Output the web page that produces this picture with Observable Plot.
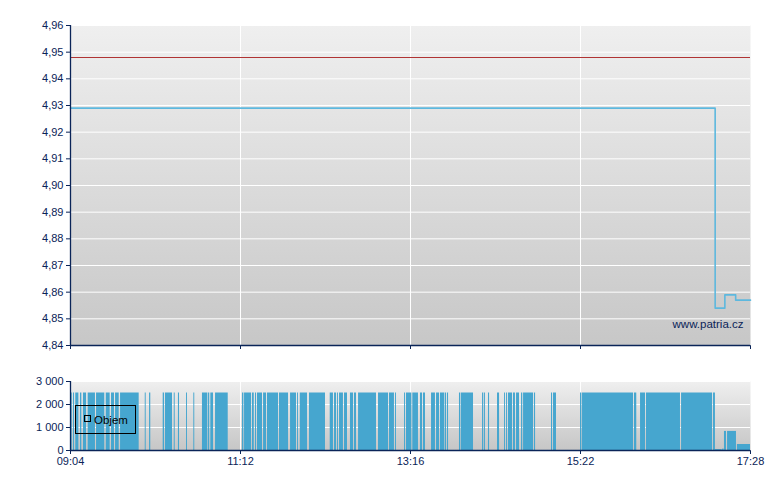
<!DOCTYPE html>
<html><head><meta charset="utf-8">
<script src="https://cdn.jsdelivr.net/npm/d3@7"></script>
<script src="https://cdn.jsdelivr.net/npm/@observablehq/plot@0.6"></script>
<style>
body{margin:0;background:#fff;}
#chart svg{display:block;}
</style></head><body><div id="chart"></div>
<script>
// ---- data ----
const xTickLabels = ["09:04", "11:12", "13:16", "15:22", "17:28"];
const sessionMinutes = 504; // 09:04 -> 17:28
const priceTicks = [4.84, 4.85, 4.86, 4.87, 4.88, 4.89, 4.90, 4.91, 4.92, 4.93, 4.94, 4.95, 4.96];
const priceMinute = [0, 477.8, 485.0, 493.0, 504];
const priceValue = [4.929, 4.854, 4.859, 4.857, 4.857];
const prevClose = 4.948;
const volTicks = [0, 1000, 2000, 3000];
const volStart = [0.5,2.2,3.9,7.4,9.6,13.1,19.3,26.5,30.4,33.4,37.1,55.4,58.6,68.7,70.4,76.9,80.0,86.0,91.4,97.8,102.3,104.0,107.5,127.5,129.0,134.9,137.1,138.6,143.1,146.0,154.9,163.1,168.3,170.3,177.1,192.5,195.7,197.9,199.4,203.1,207.5,210.5,213.5,228.3,236.4,240.9,247.6,249.0,253.7,259.4,261.6,267.6,271.3,274.2,277.7,279.4,288.3,289.8,305.4,306.9,309.8,316.5,321.7,323.2,324.6,328.3,330.6,334.3,335.8,343.9,356.5,358.0,378.0,379.5,418.0,422.5,426.9,452.9,476.6,478.0,483.3,484.7,487.0,494.3];
const volEnd = [1.3,3.0,6.2,8.4,11.9,18.5,25.4,29.4,32.6,36.1,50.9,56.1,59.5,69.7,75.6,77.6,80.8,86.7,92.1,101.8,103.2,106.0,116.9,128.5,134.2,136.2,137.9,142.3,145.3,154.2,161.6,167.5,169.0,175.7,189.0,194.9,197.2,198.6,202.3,205.3,209.8,212.0,226.8,235.7,240.1,241.6,248.3,253.0,257.9,260.9,263.1,270.5,273.5,277.2,278.7,280.2,289.3,298.7,306.3,307.6,310.6,318.0,322.4,323.9,327.6,329.8,332.8,335.2,343.2,344.7,357.3,360.2,379.0,417.3,419.7,426.2,452.1,475.9,478.0,483.0,484.5,486.2,493.6,504];
const volValue = [
  2500,2500,2500,2500,2500,2500,2500,2500,2500,2500,
  2500,2500,2500,2500,2500,2500,2500,2500,2500,2500,
  2500,2500,2500,2500,2500,2500,2500,2500,2500,2500,
  2500,2500,2500,2500,2500,2500,2500,2500,2500,2500,
  2500,2500,2500,2500,2500,2500,2500,2500,2500,2500,
  2500,2500,2500,2500,2500,2500,2500,2500,2500,2500,
  2500,2500,2500,2500,2500,2500,2500,2500,2500,2500,
  2500,2500,2500,2500,2500,2500,2500,2500,2500,
  40,60,830,830,260];
const legendLabel = "Objem";
const watermark = "www.patria.cz";

// ---- build ----
const navy = "#0a2458";
const xTickPos = xTickLabels.map((_, i) => i * sessionMinutes / (xTickLabels.length - 1));
const priceData = priceMinute.map((t, i) => ({t, p: priceValue[i]}));
const volData = volStart.map((s, i) => ({s, e: volEnd[i], v: volValue[i]}));
const fmtP = d => d.toFixed(2).replace(".", ",");
const fmtV = d => d3.format(",")(d).replace(/,/g, "\u00a0");
const style = {fontFamily: "Liberation Sans, Arial, sans-serif", fontSize: "11px", color: navy, background: "transparent"};

function addGrad(svg, id, c1, c2) {
  const defs = d3.select(svg).insert("defs", ":first-child");
  const g = defs.append("linearGradient").attr("id", id)
    .attr("x1", 0).attr("y1", 0).attr("x2", 0).attr("y2", 1);
  g.append("stop").attr("offset", "0%").attr("stop-color", c1);
  g.append("stop").attr("offset", "100%").attr("stop-color", c2);
}

const main = Plot.plot({
  width: 780, height: 352,
  marginLeft: 70, marginRight: 30, marginTop: 25, marginBottom: 7,
  style,
  x: {domain: [0, sessionMinutes], ticks: xTickPos, tickFormat: () => "", tickSize: 4, label: null},
  y: {domain: [4.84, 4.96], ticks: priceTicks, tickFormat: fmtP, tickSize: 4, tickPadding: 3, label: null},
  marks: [
    Plot.frame({fill: "url(#gMain)", stroke: "none"}),
    Plot.ruleY(priceTicks.slice(1), {stroke: "#ffffff", strokeWidth: 1}),
    Plot.ruleX(xTickPos.slice(1, -1), {stroke: "#ffffff", strokeWidth: 1}),
    Plot.ruleY([prevClose], {stroke: "#b03434", strokeWidth: 1}),
    Plot.line(priceData, {x: "t", y: "p", curve: "step-after", stroke: "#5db8de", strokeWidth: 1.6}),
    Plot.text([watermark], {text: d => d, frameAnchor: "bottom-right", textAnchor: "end", dx: -7, dy: -18, fill: navy, fontSize: 11.5}),
    Plot.ruleX([0], {stroke: navy, strokeWidth: 1.3}),
    Plot.ruleY([4.84], {stroke: navy, strokeWidth: 1.3})
  ]
});
addGrad(main, "gMain", "#efefef", "#c7c7c7");

const vol = Plot.plot({
  width: 780, height: 138,
  marginLeft: 70, marginRight: 30, marginTop: 29, marginBottom: 40,
  style,
  x: {domain: [0, sessionMinutes], ticks: xTickPos, tickFormat: d => xTickLabels[xTickPos.indexOf(d)], tickSize: 4, tickPadding: 3, label: null},
  y: {domain: [0, 3000], ticks: volTicks, tickFormat: fmtV, tickSize: 4, tickPadding: 3, label: null},
  marks: [
    Plot.frame({fill: "url(#gVol)", stroke: "none"}),
    Plot.ruleY(volTicks.slice(1), {stroke: "#ffffff", strokeWidth: 1}),
    Plot.ruleX(xTickPos.slice(1, -1), {stroke: "#ffffff", strokeWidth: 1}),
    Plot.rect(volData, {x1: "s", x2: "e", y1: () => 0, y2: "v", fill: "#46a6cf"}),
    Plot.ruleX([0], {stroke: navy, strokeWidth: 1.3}),
    Plot.ruleY([0], {stroke: navy, strokeWidth: 1.3})
  ]
});
addGrad(vol, "gVol", "#efefef", "#c6c6c6");

// legend box inside the volume panel
const lg = d3.select(vol).append("g").attr("text-anchor", "start");
lg.append("rect").attr("x", 75.5).attr("y", 53.5).attr("width", 60).attr("height", 28)
  .attr("fill", "none").attr("stroke", "#000").attr("stroke-width", 1);
lg.append("rect").attr("x", 84.5).attr("y", 63.5).attr("width", 6).attr("height", 6)
  .attr("fill", "none").attr("stroke", "#000").attr("stroke-width", 1);
lg.append("text").attr("x", 94).attr("y", 72).attr("fill", "#000").attr("text-anchor", "start")
  .attr("font-family", "Liberation Sans, Arial, sans-serif").attr("font-size", 11.5).text(legendLabel);

document.getElementById("chart").append(main, vol);
</script>
</body></html>
